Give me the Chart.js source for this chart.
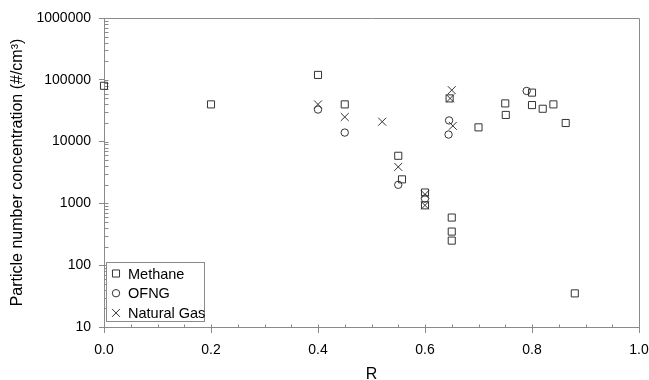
<!DOCTYPE html>
<html>
<head>
<meta charset="utf-8">
<script src="https://cdn.jsdelivr.net/npm/chart.js@4.4.1/dist/chart.umd.min.js"></script>
<style>
  body { margin: 0; background: #fff; }
  #wrap { width: 649px; height: 380px; }
</style>
</head>
<body>
<div id="wrap"><canvas id="chart" width="649" height="380"></canvas></div>
<script>
// valores (R vs concentração de partículas)
const methaneR = [0.0, 0.2, 0.4, 0.45, 0.55, 0.557, 0.6, 0.6, 0.646, 0.65, 0.65, 0.65, 0.7, 0.75, 0.751, 0.8, 0.8, 0.82, 0.84, 0.863, 0.88];
const methaneN = [80000, 40000, 120000, 40000, 5900, 2450, 1500, 930, 50000, 590, 350, 250, 17000, 41500, 27000, 62000, 39000, 34000, 40000, 20000, 35];

const ofngR = [0.4, 0.45, 0.55, 0.6, 0.645, 0.644, 0.79];
const ofngN = [33000, 14000, 2000, 1200, 22000, 13000, 66000];

const gasR = [0.4, 0.45, 0.52, 0.55, 0.6, 0.6, 0.65, 0.647, 0.652];
const gasN = [40000, 25000, 21000, 3900, 1400, 930, 68000, 50000, 18000];

const xTickValues = [0, 0.2, 0.4, 0.6, 0.8, 1.0];
const yTickValues = [10, 100, 1000, 10000, 100000, 1000000];

const seriesNames = ["Methane", "OFNG", "Natural Gas"];

const axisColor = "#8a8a8a";
const markColor = "#333333";
const fontFamily = "'Liberation Sans', Arial, sans-serif";

const toPoints = (xs, ys) => xs.map((r, i) => ({ x: r, y: ys[i] }));

// ticks menores (pra dentro) + moldura de cima/direita
const axisDecor = {
  id: "axisDecor",
  beforeDatasetsDraw(chart) {
    const { ctx, chartArea: a, scales: { x, y } } = chart;
    ctx.save();
    ctx.strokeStyle = axisColor;
    ctx.lineWidth = 1;
    ctx.beginPath();
    ctx.moveTo(a.left, Math.round(a.top) + 0.5);
    ctx.lineTo(Math.round(a.right) + 0.5, Math.round(a.top) + 0.5);
    ctx.lineTo(Math.round(a.right) + 0.5, a.bottom);

    const yb = Math.round(a.bottom) + 0.5;
    for (let i = 0; i <= 20; i++) {
      const v = i * 0.05;
      const px = Math.round(x.getPixelForValue(v)) + 0.5;
      ctx.moveTo(px, yb);
      ctx.lineTo(px, yb - 3);
    }

    const xl = Math.round(a.left) + 0.5;
    for (let d = 10; d < 1000000; d *= 10) {
      for (let k = 1; k <= 9; k++) {
        const py = Math.round(y.getPixelForValue(d * k)) + 0.5;
        ctx.moveTo(xl, py);
        ctx.lineTo(xl + 4, py);
      }
    }
    ctx.stroke();
    ctx.restore();
  },
  afterDatasetsDraw(chart) {
    // legenda no canto inferior esquerdo, dentro da área do gráfico
    const { ctx, chartArea: a } = chart;
    const bx = Math.round(a.left) + 2.5;
    const by = Math.round(a.bottom) - 64.5;
    const bw = 98, bh = 59;
    ctx.save();
    ctx.fillStyle = "#fff";
    ctx.strokeStyle = axisColor;
    ctx.lineWidth = 1;
    ctx.fillRect(bx, by, bw, bh);
    ctx.strokeRect(bx, by, bw, bh);
    ctx.font = "14.5px " + fontFamily;
    ctx.textBaseline = "middle";
    chart.data.datasets.forEach((ds, i) => {
      const cy = by + 11 + i * 19.7;
      ctx.strokeStyle = markColor;
      ctx.fillStyle = "rgba(0,0,0,0)";
      ctx.lineWidth = 1;
      Chart.helpers.drawPoint(ctx, {
        pointStyle: ds.pointStyle,
        radius: ds.pointRadius,
        borderWidth: 1
      }, bx + 9.5, cy);
      ctx.fillStyle = "#000";
      ctx.fillText(seriesNames[i], bx + 21.5, cy + 1);
    });
    ctx.restore();
  }
};

const baseSet = {
  backgroundColor: "rgba(0,0,0,0)",
  borderColor: markColor,
  pointBorderColor: markColor,
  pointBackgroundColor: "rgba(0,0,0,0)",
  pointBorderWidth: 1,
  showLine: false,
  clip: false
};

new Chart(document.getElementById("chart"), {
  type: "scatter",
  data: {
    datasets: [
      { ...baseSet, label: seriesNames[0], data: toPoints(methaneR, methaneN), pointStyle: "rect", pointRadius: 5 },
      { ...baseSet, label: seriesNames[1], data: toPoints(ofngR, ofngN), pointStyle: "circle", pointRadius: 3.7 },
      { ...baseSet, label: seriesNames[2], data: toPoints(gasR, gasN), pointStyle: "crossRot", pointRadius: 5.6 }
    ]
  },
  options: {
    responsive: false,
    animation: false,
    events: [],
    layout: { padding: { top: 18, right: 10, left: 0, bottom: 0 } },
    plugins: { legend: { display: false }, tooltip: { enabled: false } },
    scales: {
      x: {
        type: "linear",
        min: 0,
        max: 1,
        afterBuildTicks: (s) => { s.ticks = xTickValues.map(v => ({ value: v })); },
        afterFit: (s) => { s.height = 53; s.paddingLeft = 0; s.paddingRight = 0; },
        ticks: {
          color: "#000",
          font: { family: fontFamily, size: 14 },
          padding: 9,
          maxRotation: 0,
          callback: (v) => Number(v).toFixed(1)
        },
        grid: { drawOnChartArea: false, drawTicks: true, tickLength: 6, color: axisColor, tickColor: axisColor },
        border: { display: true, color: axisColor, width: 1 },
        title: {
          display: true,
          text: "R",
          color: "#000",
          font: { family: fontFamily, size: 16, lineHeight: 1 },
          padding: { top: 0, bottom: -3 }
        }
      },
      y: {
        type: "logarithmic",
        min: 10,
        max: 1000000,
        afterBuildTicks: (s) => { s.ticks = yTickValues.map(v => ({ value: v })); },
        afterFit: (s) => { s.width = 104; },
        ticks: {
          color: "#000",
          font: { family: fontFamily, size: 14 },
          padding: 8,
          callback: (v) => String(v)
        },
        grid: { drawOnChartArea: false, drawTicks: true, tickLength: 5, color: axisColor, tickColor: axisColor },
        border: { display: true, color: axisColor, width: 1 },
        title: {
          display: true,
          text: "Particle number concentration (#/cm³)",
          color: "#000",
          font: { family: fontFamily, size: 16 },
          padding: { top: 8, bottom: 0 }
        }
      }
    }
  },
  plugins: [axisDecor]
});
</script>
</body>
</html>
